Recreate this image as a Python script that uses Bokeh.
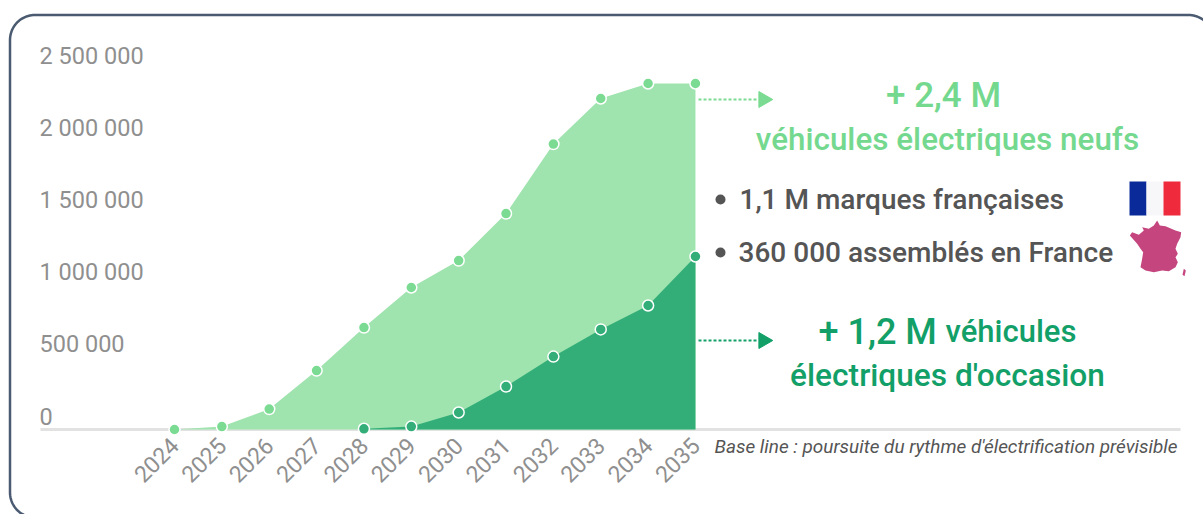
import numpy as np
from bokeh.core.properties import value
from bokeh.embed import file_html
from bokeh.models import FixedTicker, LinearAxis, Range1d
from bokeh.plotting import figure
from bokeh.resources import INLINE

years = [2024, 2025, 2026, 2027, 2028, 2029, 2030, 2031, 2032, 2033, 2034, 2035]
new_ev = [0, 20000, 142000, 409000, 707000, 985000, 1172000, 1498000, 1980000, 2296000, 2400000, 2400000]
used_years = [2028, 2029, 2030, 2031, 2032, 2033, 2034, 2035]
used_ev = [5000, 20000, 118000, 298000, 506000, 694000, 860000, 1200000]
y_ticks = [0, 500000, 1000000, 1500000, 2000000, 2500000]
y_tick_labels = ["0", "500 000", "1 000 000", "1 500 000", "2 000 000", "2 500 000"]

W, H = 1203, 514
FONT = "Roboto Medium"
AXIS_FONT = "Roboto"
LIGHT_AREA, LIGHT_DOT, LIGHT_TEXT = "#9fe3ae", "#7bdb92", "#74d98f"
DARK_AREA, DARK_TEXT = "#33ae78", "#12a068"
GREY = "#8f8f8f"
INK = "#555555"

# Pixel placement of the plot: year axis and value axis scales
X0, X_STEP = 174.0, 47.36
Y0, Y_STEP = 429.0, 144.17 / 1e6


def px(x):
    return np.asarray(x, dtype=float) / X_STEP + 2024 - X0 / X_STEP


def py(y):
    return (Y0 - np.asarray(y, dtype=float)) / Y_STEP


p = figure(
    width=W, height=H, output_backend="svg", toolbar_location=None,
    x_range=Range1d(float(px(0)), float(px(W))),
    y_range=Range1d(float(py(H)), float(py(0))),
    min_border=0, outline_line_color=None, background_fill_color="white",
    x_axis_location=None, y_axis_location=None,
)
p.grid.visible = False

# Rounded card outline, running off the right and bottom edges
r = 25
left, top, right, bottom = 9.5, 14.5, 1213, 517
t = np.linspace(0, np.pi / 2, 24)
bl_x = left + r - r * np.cos(t)
bl_y = bottom - r + r * np.sin(t)
tl_x = left + r - r * np.cos(t)
tl_y = top + r - r * np.sin(t)
tr_x = right - r + r * np.sin(t)
tr_y = top + r - r * np.cos(t)
path_x = np.concatenate([bl_x[::-1], tl_x, tr_x])
path_y = np.concatenate([bl_y[::-1], tl_y, tr_y])
p.line(px(path_x), py(path_y), line_color="#4a5a70", line_width=2.5)

# Baseline under the areas
p.line(px([40, 1180]), py([429, 429]), line_color="#e2e2e2", line_width=3)

# Areas and their markers
p.varea(years, [0] * len(years), new_ev, fill_color=LIGHT_AREA)
p.varea(used_years, [0] * len(used_years), used_ev, fill_color=DARK_AREA)
p.scatter(years, new_ev, size=11, fill_color=LIGHT_DOT, line_color="white", line_width=1.5)
p.scatter(used_years, used_ev, size=11, fill_color=DARK_AREA, line_color="white", line_width=1.5)

# Value labels sit just above their level, left aligned
p.text(
    [float(px(39))] * len(y_ticks), y_ticks, text=y_tick_labels,
    text_font=value(AXIS_FONT), text_font_size="23.5px", text_color=GREY,
    text_align="left", text_baseline="middle", y_offset=-13,
)

# Year axis: slanted labels
x_axis = LinearAxis(
    fixed_location=0,
    ticker=FixedTicker(ticks=years),
    major_label_overrides={y: str(y) for y in years},
    major_label_orientation=np.pi / 4,
    major_label_text_font=AXIS_FONT, major_label_text_font_size="23px",
    major_label_text_color=GREY, major_label_standoff=6,
    axis_line_color=None, major_tick_line_color=None, minor_tick_line_color=None,
)
p.add_layout(x_axis, "below")

# Dashed arrows from the 2035 edge to the call-outs
for y_px, colour in ((99, LIGHT_DOT), (340, DARK_TEXT)):
    p.line(px([698, 756]), py([y_px, y_px]), line_color=colour, line_width=1.8, line_dash="3 2")
    p.scatter([float(px(763))], [float(py(y_px))], marker="triangle", size=16, angle=-np.pi / 2,
              fill_color=colour, line_color=colour)


def label(x, y, text, colour, size, align="left", style="normal"):
    p.text(
        [float(px(x))], [float(py(y))], text=[text],
        text_font=value(FONT), text_font_size=f"{size}px", text_color=colour,
        text_align=align, text_baseline="middle", text_font_style=style,
    )


label(943, 95, "+ 2,4 M", LIGHT_TEXT, 35, "center")
label(947, 139, "véhicules électriques neufs", LIGHT_TEXT, 31.4, "center")
label(739, 199, "1,1 M marques françaises", INK, 28, "left")
label(738, 252, "360 000 assemblés en France", INK, 28, "left")
label(818, 331, "+ 1,2 M", DARK_TEXT, 36, "left")
label(945, 331, "véhicules", DARK_TEXT, 31, "left")
label(947, 375, "électriques d'occasion", DARK_TEXT, 31.6, "center")
p.text(
    [float(px(714))], [float(py(446))], text=["Base line : poursuite du rythme d'électrification prévisible"],
    text_font=value(AXIS_FONT), text_font_size="18.95px", text_color=INK,
    text_align="left", text_baseline="middle", text_font_style="italic",
)
p.scatter(px([720, 720]), py([199, 252]), size=10, fill_color=INK, line_color=None)

# French flag
for x0, x1, colour in ((1129, 1146, "#0a2a9a"), (1146, 1163, "#f7f7fa"), (1163, 1180, "#ee2a3c")):
    p.quad(left=[float(px(x0))], right=[float(px(x1))], top=[float(py(181))], bottom=[float(py(215))],
           fill_color=colour, line_color=None)

# Outline of France and Corsica
france = [(110, 15), (118, 30), (135, 32), (165, 45), (182, 50), (180, 65), (170, 85), (165, 100),
          (172, 115), (165, 125), (172, 140), (165, 155), (145, 167), (125, 165), (100, 170),
          (75, 165), (60, 155), (65, 130), (68, 110), (60, 100), (50, 85), (28, 60), (35, 50),
          (55, 58), (70, 45), (65, 35), (85, 40), (100, 30)]
corsica = [(190, 160), (196, 165), (192, 182), (186, 178)]
for shape in (france, corsica):
    sx = [1120 + a / 3 for a, _ in shape]
    sy = [215 + b / 3 for _, b in shape]
    p.patch(px(sx), py(sy), fill_color="#c5457f", line_color=None)

open("out.html", "w").write(file_html(p, INLINE))
